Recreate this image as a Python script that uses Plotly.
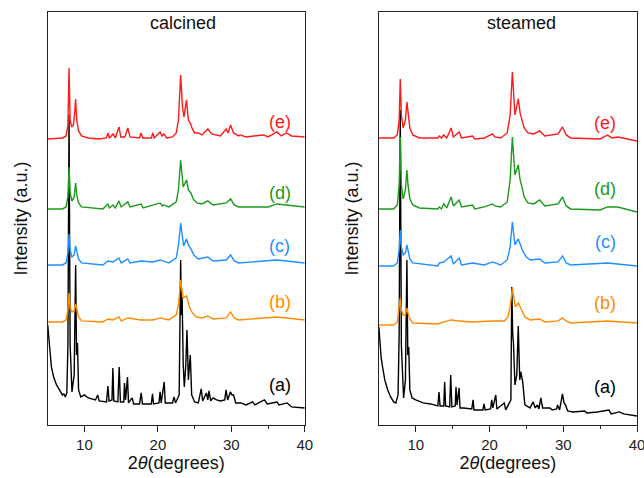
import plotly.graph_objects as go

# ---------------- data (intensity in arbitrary units) ----------------
# Calcined panel
cal_e_x = [5.0, 7.0, 7.5, 7.75, 7.9, 8.05, 8.25, 8.5, 8.7, 8.8, 8.95, 9.2, 9.6, 10.5, 12.0, 13.0, 13.2, 13.4, 13.9, 14.2, 14.7, 14.95, 15.5, 15.9, 16.2, 17.5, 17.7, 17.95, 19.1, 19.3, 19.5, 20.3, 20.55, 20.8, 21.2, 22.0, 22.5, 22.8, 23.1, 23.35, 23.55, 23.9, 24.15, 24.4, 24.7, 25.0, 25.5, 26.0, 26.8, 27.3, 28.5, 29.3, 29.55, 29.9, 30.3, 31.0, 31.2, 32.0, 34.4, 35.0, 36.2, 36.8, 37.5, 38.2, 40.0]
cal_e_y = [286, 287, 289, 300, 357, 305, 298, 300, 315, 326, 305, 294, 289, 287, 286, 287, 292, 287, 291, 287, 298, 288, 288, 297, 288, 287, 292, 287, 287, 292, 287, 293, 289, 291, 287, 288, 292, 305, 350, 318, 308, 325, 305, 302, 296, 292, 292, 290, 296, 291, 289, 296, 292, 300, 292, 289, 290, 288, 290, 288, 293, 289, 292, 289, 288]

cal_d_x = [5.0, 7.0, 7.5, 7.75, 7.9, 8.05, 8.3, 8.6, 8.8, 8.95, 9.2, 9.6, 12.5, 13.2, 13.4, 13.9, 14.2, 14.7, 15.0, 15.9, 16.2, 17.7, 18.0, 19.3, 20.3, 20.6, 20.8, 21.5, 22.5, 22.8, 23.1, 23.45, 23.9, 24.15, 24.5, 24.8, 25.3, 26.0, 26.8, 27.5, 29.3, 29.9, 30.4, 31.0, 35.0, 36.2, 37.5, 40.0]
cal_d_y = [216, 216, 218, 228, 258, 232, 224, 228, 242, 230, 222, 218, 216, 221, 217, 220, 217, 224, 218, 223, 218, 221, 217, 220, 222, 219, 220, 218, 223, 235, 265, 238, 245, 235, 232, 226, 222, 221, 224, 220, 222, 226, 220, 218, 218, 221, 220, 218]

cal_c_x = [5.0, 7.0, 7.5, 7.75, 7.9, 8.05, 8.3, 8.6, 8.8, 8.95, 9.2, 9.6, 12.5, 13.2, 13.9, 14.7, 15.0, 15.9, 16.2, 17.7, 19.3, 20.3, 21.5, 22.5, 22.8, 23.1, 23.5, 23.9, 24.15, 24.5, 24.9, 25.5, 26.8, 27.5, 29.3, 29.9, 30.4, 31.0, 36.2, 37.5, 40.0]
cal_c_y = [160, 160, 162, 172, 191, 175, 168, 170, 179, 174, 166, 162, 160, 164, 163, 167, 162, 166, 162, 164, 163, 165, 162, 167, 180, 202, 179, 186, 180, 176, 170, 166, 168, 164, 165, 170, 164, 162, 165, 164, 162]

cal_b_x = [5.0, 7.0, 7.5, 7.75, 7.9, 8.05, 8.3, 8.6, 8.8, 8.95, 9.2, 9.6, 12.5, 13.2, 13.9, 14.7, 15.0, 15.9, 17.7, 19.3, 20.3, 21.5, 22.5, 22.8, 23.1, 23.45, 23.9, 24.3, 24.7, 25.2, 26.0, 26.8, 27.5, 29.3, 29.9, 30.4, 31.0, 36.2, 37.5, 40.0]
cal_b_y = [103, 103, 105, 115, 132, 118, 113, 114, 121, 115, 108, 104, 103, 106, 105, 108, 104, 107, 105, 105, 107, 105, 110, 120, 145, 127, 129, 118, 112, 108, 107, 109, 106, 107, 113, 107, 105, 108, 107, 105]

cal_a_x = [5.0, 5.15, 5.3, 5.5, 5.8, 6.2, 6.6, 7.0, 7.2, 7.4, 7.6, 7.75, 7.9, 8.05, 8.3, 8.6, 8.8, 8.92, 9.05, 9.2, 9.5, 10.0, 10.5, 11.5, 11.8, 12.0, 13.0, 13.2, 13.35, 13.75, 13.87, 14.0, 14.55, 14.73, 14.9, 15.35, 15.45, 15.6, 15.86, 16.0, 16.5, 16.7, 17.5, 17.73, 17.9, 19.1, 19.27, 19.4, 20.15, 20.3, 20.45, 20.86, 21.0, 22.0, 22.2, 22.4, 22.9, 23.1, 23.2, 23.3, 23.45, 23.6, 23.8, 23.96, 24.15, 24.41, 24.6, 25.0, 25.5, 25.9, 26.1, 26.6, 26.8, 26.96, 27.2, 27.5, 28.0, 28.5, 29.1, 29.28, 29.5, 29.87, 30.1, 30.3, 30.6, 31.3, 32.0, 32.9, 33.2, 34.5, 34.9, 36.2, 36.5, 37.6, 38.2, 40.0]
cal_a_y = [100, 85, 72, 58, 48, 40, 35, 30, 31, 28, 32, 80, 310, 80, 33, 50, 160, 70, 82, 35, 28, 30, 27, 25, 30, 24, 23, 39, 24, 25, 57, 24, 23, 58, 23, 23, 42, 25, 48, 22, 27, 21, 21, 32, 21, 21, 31, 21, 22, 33, 22, 43, 22, 22, 28, 22, 30, 165, 110, 128, 60, 38, 60, 95, 45, 70, 30, 23, 22, 36, 24, 32, 25, 34, 24, 27, 25, 24, 25, 35, 25, 33, 30, 30, 22, 22, 20, 23, 20, 25, 21, 23, 20, 22, 18, 17]

# Steamed panel
stm_e_x = [5.0, 7.0, 7.5, 7.75, 7.9, 8.05, 8.3, 8.6, 8.8, 8.95, 9.2, 9.6, 10.5, 13.0, 13.2, 13.5, 13.8, 14.2, 14.8, 15.1, 15.9, 16.2, 17.7, 18.0, 19.3, 20.4, 20.7, 21.5, 22.4, 22.8, 23.1, 23.45, 23.9, 24.15, 24.4, 24.7, 25.2, 26.0, 26.8, 27.5, 29.3, 29.9, 30.4, 31.0, 35.0, 36.0, 36.6, 37.4, 40.0]
stm_e_y = [287, 287, 290, 305, 346, 310, 297, 305, 323, 310, 297, 290, 287, 287, 289, 287, 290, 287, 297, 288, 293, 287, 289, 286, 287, 291, 288, 287, 292, 310, 353, 310, 326, 312, 305, 297, 292, 291, 294, 289, 291, 298, 290, 287, 286, 290, 287, 288, 284]

stm_d_x = [5.0, 7.0, 7.5, 7.75, 7.9, 8.05, 8.3, 8.6, 8.8, 8.95, 9.2, 9.6, 10.5, 13.0, 13.2, 13.5, 13.8, 14.2, 14.8, 15.1, 15.9, 16.2, 17.7, 18.0, 19.3, 20.4, 20.7, 21.5, 22.4, 22.8, 23.1, 23.45, 23.9, 24.15, 24.4, 24.7, 25.2, 26.0, 26.8, 27.5, 29.3, 29.9, 30.4, 31.0, 35.0, 36.0, 37.4, 40.0]
stm_d_y = [216, 216, 220, 240, 288, 240, 226, 235, 255, 240, 226, 220, 217, 216, 218, 216, 221, 217, 228, 219, 225, 218, 220, 216, 218, 221, 219, 218, 223, 245, 288, 250, 260, 245, 238, 228, 222, 221, 225, 219, 221, 228, 219, 216, 215, 218, 218, 213]

stm_c_x = [5.0, 7.0, 7.5, 7.75, 7.9, 8.05, 8.3, 8.6, 8.8, 8.95, 9.2, 9.6, 13.0, 13.2, 13.8, 14.8, 15.1, 15.9, 16.2, 17.7, 19.3, 20.4, 21.5, 22.4, 22.8, 23.1, 23.45, 23.9, 24.15, 24.5, 25.0, 25.5, 26.8, 27.5, 29.3, 29.9, 30.4, 31.0, 36.0, 37.4, 40.0]
stm_c_y = [159, 159, 162, 175, 195, 178, 170, 172, 180, 175, 166, 162, 159, 162, 163, 169, 161, 167, 160, 162, 160, 163, 160, 165, 178, 203, 180, 186, 180, 174, 168, 165, 166, 162, 163, 169, 162, 160, 162, 161, 159]

stm_b_x = [5.0, 7.0, 7.5, 7.75, 7.9, 8.05, 8.3, 8.6, 8.8, 8.95, 9.2, 9.6, 13.0, 13.8, 14.8, 15.9, 17.7, 20.4, 22.0, 22.5, 22.8, 23.1, 23.5, 23.9, 24.3, 24.8, 25.5, 26.8, 27.5, 29.3, 29.9, 30.4, 31.0, 36.0, 40.0]
stm_b_y = [100, 100, 103, 115, 127, 115, 110, 110, 117, 112, 106, 102, 101, 103, 105, 104, 103, 104, 104, 108, 118, 137, 118, 122, 115, 108, 105, 106, 103, 104, 107, 104, 102, 104, 102]

stm_a_x = [5.0, 5.15, 5.3, 5.5, 5.8, 6.2, 6.6, 7.0, 7.3, 7.6, 7.75, 7.9, 8.05, 8.35, 8.6, 8.8, 8.92, 9.05, 9.2, 9.5, 10.0, 11.0, 12.0, 13.0, 13.15, 13.3, 13.8, 13.92, 14.05, 14.6, 14.74, 14.9, 15.35, 15.46, 15.6, 15.87, 16.0, 16.5, 17.6, 17.77, 17.9, 19.1, 19.26, 19.4, 20.15, 20.3, 20.45, 20.85, 21.0, 22.0, 22.2, 22.9, 23.02, 23.15, 23.25, 23.45, 23.7, 23.9, 24.1, 24.25, 24.5, 24.8, 25.5, 25.92, 26.2, 26.5, 26.7, 26.96, 27.2, 28.2, 28.5, 29.1, 29.22, 29.5, 29.9, 30.1, 30.3, 30.6, 31.3, 32.9, 33.2, 34.6, 36.2, 36.5, 37.6, 38.2, 40.0]
stm_a_y = [98, 80, 68, 58, 45, 35, 28, 23, 22, 30, 90, 315, 80, 27, 45, 165, 70, 78, 35, 27, 25, 22, 21, 19, 33, 19, 19, 43, 19, 18, 50, 18, 19, 38, 20, 37, 17, 17, 16, 25, 15, 15, 21, 15, 16, 25, 17, 30, 16, 22, 15, 25, 138, 90, 82, 40, 50, 99, 45, 53, 43, 20, 17, 23, 17, 20, 16, 27, 17, 17, 15, 16, 20, 15, 31, 22, 20, 14, 13, 14, 12, 13, 15, 11, 13, 11, 9]

sample_labels = ["(a)", "(b)", "(c)", "(d)", "(e)"]
panel_titles = ["calcined", "steamed"]
x_tick_vals = [10, 20, 30, 40]
x_tick_text = ["10", "20", "30", "40"]

# ---------------- styling ----------------
colors = ["#000000", "#FF8C00", "#1E90FF", "#1A9A1A", "#FF1A1A"]
label_y = [[40, 123, 179, 232, 303], [38, 122, 183, 236, 302]]
label_x = [36.6, 35.7]
title_x = [23.4, 24.4]

panels = [
    [(cal_a_x, cal_a_y), (cal_b_x, cal_b_y), (cal_c_x, cal_c_y), (cal_d_x, cal_d_y), (cal_e_x, cal_e_y)],
    [(stm_a_x, stm_a_y), (stm_b_x, stm_b_y), (stm_c_x, stm_c_y), (stm_d_x, stm_d_y), (stm_e_x, stm_e_y)],
]

fig = go.Figure()
for p, series in enumerate(panels):
    xa = "x" if p == 0 else "x2"
    ya = "y" if p == 0 else "y2"
    for i, (xs, ys) in enumerate(series):
        fig.add_trace(go.Scatter(x=xs, y=ys, mode="lines", xaxis=xa, yaxis=ya,
                                 line=dict(color=colors[i], width=1.4),
                                 name=sample_labels[i], showlegend=False, hoverinfo="skip"))
        fig.add_annotation(x=label_x[p], y=label_y[p][i], xref=xa, yref=ya, text=sample_labels[i],
                           showarrow=False, font=dict(size=18, color=colors[i]))
    fig.add_annotation(x=title_x[p], y=402, xref=xa, yref=ya, text=panel_titles[p], showarrow=False,
                       font=dict(size=18, color="#111"))

axis_font = dict(family="Arial, Liberation Sans, sans-serif", size=15, color="#222")
xcommon = dict(range=[5, 40], showline=True, linecolor="#222", linewidth=1.4, mirror=True,
               ticks="outside", ticklen=6, tickwidth=1.2, tickcolor="#222",
               tickvals=x_tick_vals, ticktext=x_tick_text, tickfont=axis_font,
               minor=dict(tickvals=[15, 25, 35], ticklen=3, tickwidth=1.2, tickcolor="#222", ticks="outside"),
               showgrid=False, zeroline=False,
               title=dict(text="2<i>θ</i>(degrees)", font=dict(size=18, color="#111"), standoff=4))
ycommon = dict(range=[0, 413], showline=True, linecolor="#222", linewidth=1.4, mirror=True,
               ticks="", showticklabels=False, showgrid=False, zeroline=False,
               title=dict(text="Intensity (a.u.)", font=dict(size=18, color="#111"), standoff=14))

W = 653
fig.update_layout(
    width=W, height=478, autosize=False, margin=dict(l=0, r=0, t=0, b=0),
    paper_bgcolor="white", plot_bgcolor="white",
    font=dict(family="Arial, Liberation Sans, sans-serif"),
    xaxis=dict(domain=[0.074, 0.4725], anchor="y", **xcommon),
    xaxis2=dict(domain=[0.5874, 0.9876], anchor="y2", **xcommon),
    yaxis=dict(domain=[0.111, 0.975], anchor="x", **ycommon),
    yaxis2=dict(domain=[0.111, 0.975], anchor="x2", **ycommon),
)

page_fix = "document.body.style.margin='0';document.body.style.overflow='hidden';"
fig.write_html("out.html", config={"displayModeBar": False}, post_script=page_fix)
